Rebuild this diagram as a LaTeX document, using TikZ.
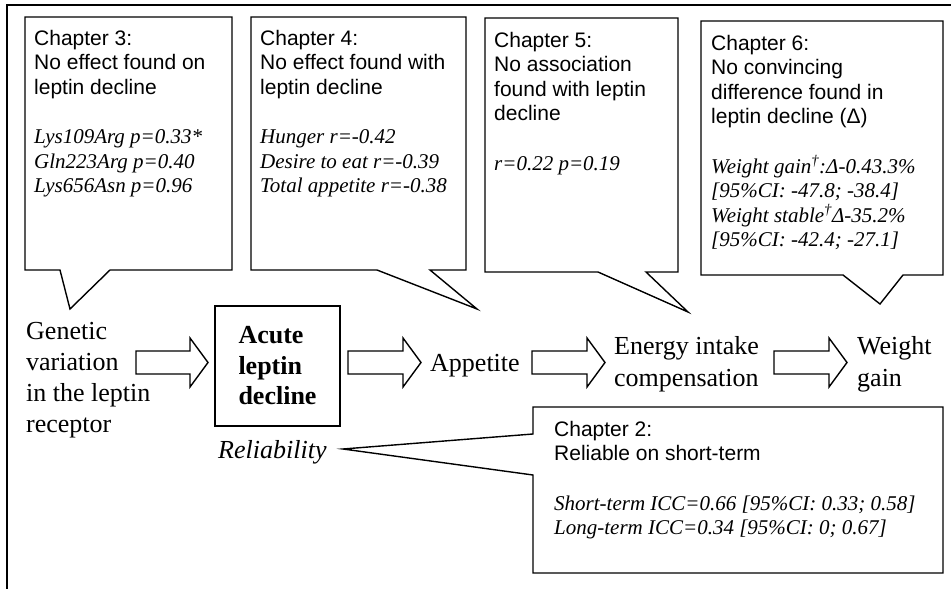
\documentclass[tikz,border=0pt]{standalone}
\usepackage{fontspec}
\setmainfont{Liberation Serif}
\newfontfamily\arialf{Liberation Sans}
\newcommand\tmi[1]{{\rmfamily\itshape #1}}
\newcommand\blockarr[4]{%
  \draw[arr] (#1,#4-11.5) -- (#2,#4-11.5) -- (#2,#4-24.5) -- (#3,#4) -- (#2,#4+24.5) -- (#2,#4+11.5) -- (#1,#4+11.5) -- cycle;}
\begin{document}
\begin{tikzpicture}[x=1pt,y=-1pt,
  box/.style={draw, line width=1.4pt, line join=miter},
  arr/.style={draw, line width=1.4pt, line join=miter},
  ctext/.style={anchor=north west, inner sep=0pt, align=left, font=\fontsize{21}{24.5}\selectfont\arialf},
  mtext/.style={anchor=north west, inner sep=0pt, align=left, font=\fontsize{26}{31}\selectfont}]
\useasboundingbox (0,0) rectangle (951,589);
\draw[line width=2pt] (951,5) -- (7,5) -- (7,589);

% callouts
\draw[box] (25,17) -- (232,17) -- (232,270) -- (110,270) -- (70,309) -- (60,270) -- (25,270) -- cycle;
\draw[box] (251,17) -- (466,17) -- (466,270) -- (430,270) -- (477,309) -- (377,270) -- (251,270) -- cycle;
\draw[box] (485,18) -- (678,18) -- (678,272) -- (646,272) -- (688,312) -- (598,272) -- (485,272) -- cycle;
\draw[box] (701,21) -- (943,21) -- (943,275) -- (903,275) -- (880,304) -- (843,275) -- (701,275) -- cycle;
\draw[box] (533,407) -- (943,407) -- (943,573) -- (533,573) -- (533,475) -- (343,449) -- (533,434) -- cycle;

\node[ctext] (c3) at (34,30) {Chapter 3:\\No effect found on\\leptin decline\\[25pt]\tmi{Lys109Arg p=0.33*}\\\tmi{Gln223Arg p=0.40}\\\tmi{Lys656Asn p=0.96}};
\node[ctext] (c4) at (260,30) {Chapter 4:\\No effect found with\\leptin decline\\[25pt]\tmi{Hunger r=-0.42}\\\tmi{Desire to eat r=-0.39}\\\tmi{Total appetite r=-0.38}};
\node[ctext] (c5) at (494,32) {Chapter 5:\\No association\\found with leptin\\decline\\[25pt]\tmi{r=0.22 p=0.19}};
\node[ctext] (c6) at (711,35) {Chapter 6:\\No convincing\\difference found in\\leptin decline (Δ)\\[25pt]\tmi{Weight gain\textsuperscript{†}:Δ-0.43.3\%}\\\tmi{[95\%CI: -47.8; -38.4]}\\\tmi{Weight stable\textsuperscript{†}Δ-35.2\%}\\\tmi{[95\%CI: -42.4; -27.1]}};
\node[ctext] (c2) at (554,421) {Chapter 2:\\Reliable on short-term\\[25pt]\tmi{Short-term ICC=0.66 [95\%CI: 0.33; 0.58]}\\\tmi{Long-term ICC=0.34 [95\%CI: 0; 0.67]}};

% main row
\node[mtext] (gen) at (26,322) {Genetic\\variation\\in the leptin\\receptor};
\node[draw, line width=2pt, minimum width=125pt, minimum height=120pt, inner sep=0pt, align=left,
      font=\fontsize{26}{30.5}\selectfont\bfseries] (acute) at (277.5,366) {Acute\\leptin\\decline};
\node[mtext, anchor=base west] (app) at (430,371) {Appetite};
\node[mtext, font=\fontsize{26}{32}\selectfont] (energy) at (614,336) {Energy intake\\compensation};
\node[mtext, font=\fontsize{26}{32}\selectfont] (wg) at (857,336) {Weight\\gain};
\node[anchor=base west, inner sep=0pt, font=\fontsize{26}{31}\selectfont\itshape] (rel) at (218,458) {Reliability};

\blockarr{136}{190}{208}{362.5}
\blockarr{348}{403}{421}{362.5}
\blockarr{532}{587}{605}{362.5}
\blockarr{774}{829}{847}{362.5}
\end{tikzpicture}
\end{document}
